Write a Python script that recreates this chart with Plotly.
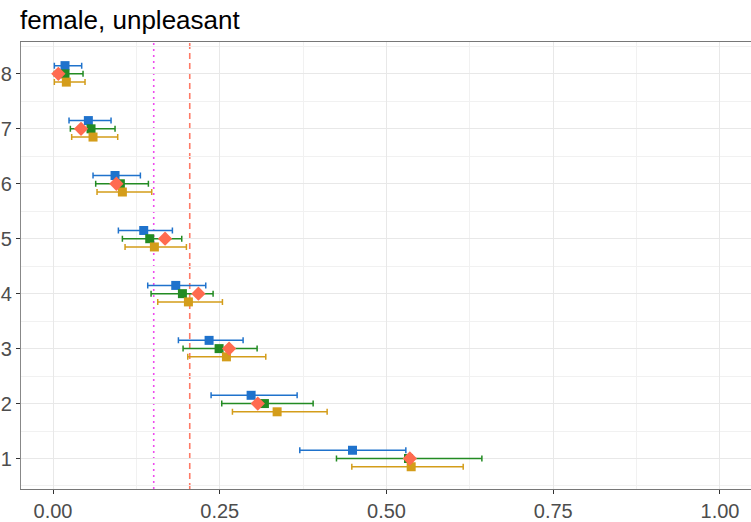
import plotly.graph_objects as go

# Rows (items) on the y axis
rows = [1, 2, 3, 4, 5, 6, 7, 8]

# Estimates with interval bounds, one triple per method
blue_est = [0.449, 0.297, 0.234, 0.184, 0.136, 0.093, 0.053, 0.018]
blue_lo = [0.370, 0.237, 0.188, 0.142, 0.098, 0.060, 0.024, 0.002]
blue_hi = [0.529, 0.366, 0.285, 0.229, 0.179, 0.131, 0.087, 0.043]

green_est = [0.533, 0.317, 0.249, 0.194, 0.145, 0.101, 0.057, 0.018]
green_lo = [0.425, 0.253, 0.195, 0.147, 0.104, 0.064, 0.026, 0.002]
green_hi = [0.643, 0.390, 0.306, 0.240, 0.193, 0.143, 0.093, 0.045]

gold_est = [0.537, 0.336, 0.260, 0.203, 0.152, 0.104, 0.060, 0.020]
gold_lo = [0.448, 0.269, 0.202, 0.157, 0.108, 0.066, 0.028, 0.002]
gold_hi = [0.615, 0.411, 0.319, 0.254, 0.200, 0.148, 0.097, 0.048]

# Reference point values (diamonds)
ref_vals = [0.535, 0.307, 0.264, 0.218, 0.168, 0.095, 0.042, 0.008]

# Vertical reference lines
dotted_line = 0.151
dashed_line = 0.205

x_ticks = [0.0, 0.25, 0.5, 0.75, 1.0]
x_tick_text = ["0.00", "0.25", "0.50", "0.75", "1.00"]

fig = go.Figure()


def add_series(est, lo, hi, offset, color):
    fig.add_trace(go.Scatter(
        x=est,
        y=[r + offset for r in rows],
        mode="markers",
        marker=dict(symbol="square", size=9, color=color),
        error_x=dict(
            type="data",
            symmetric=False,
            array=[h - e for h, e in zip(hi, est)],
            arrayminus=[e - l for e, l in zip(est, lo)],
            color=color,
            thickness=1.5,
            width=3,
        ),
        showlegend=False,
        hoverinfo="x+y",
    ))


add_series(blue_est, blue_lo, blue_hi, 0.15, "#1f72cc")
add_series(green_est, green_lo, green_hi, 0.0, "#238b23")
add_series(gold_est, gold_lo, gold_hi, -0.15, "#d49d1a")

fig.add_trace(go.Scatter(
    x=ref_vals,
    y=rows,
    mode="markers",
    marker=dict(symbol="diamond", size=11, color="#ff6b50"),
    showlegend=False,
))

fig.add_vline(x=dotted_line, line=dict(color="#ee4cee", width=1.6, dash="2px,4px"), layer="below")
fig.add_vline(x=dashed_line, line=dict(color="#ff7a66", width=1.6, dash="6px,4px"), layer="below")

fig.update_layout(
    width=751,
    height=522,
    margin=dict(l=21, r=0, t=41.5, b=32.5),
    paper_bgcolor="white",
    plot_bgcolor="white",
    font=dict(family="Liberation Sans, Arial, sans-serif"),
    title=dict(
        text="female, unpleasant",
        font=dict(size=26, color="black"),
        xref="container", yref="container",
        x=20 / 751, xanchor="left",
        y=1 - 20 / 522, yanchor="middle",
    ),
)

fig.update_xaxes(
    range=[-0.048, 1.0465],
    tickvals=x_ticks,
    ticktext=x_tick_text,
    tickfont=dict(size=20, color="#4d4d4d"),
    ticks="outside", ticklen=4, tickcolor="#333333", tickwidth=1,
    showgrid=True, gridcolor="#e8e8e8", gridwidth=1.2,
    minor=dict(tickvals=[0.125, 0.375, 0.625, 0.875], showgrid=True,
               gridcolor="#f1f1f1", gridwidth=0.7),
    showline=True, linecolor="#777777", linewidth=1.2, mirror=True,
    zeroline=False,
)

fig.update_yaxes(
    range=[0.445, 8.58],
    tickvals=rows,
    ticktext=[str(r) for r in rows],
    tickfont=dict(size=20, color="#4d4d4d"),
    ticks="outside", ticklen=4, tickcolor="#333333", tickwidth=1,
    showgrid=True, gridcolor="#e8e8e8", gridwidth=1.2,
    minor=dict(tickvals=[r - 0.5 for r in rows] + [8.5], showgrid=True,
               gridcolor="#f1f1f1", gridwidth=0.7),
    showline=True, linecolor="#888888", linewidth=1.2,
    zeroline=False,
)

fig.write_html("out.html")
